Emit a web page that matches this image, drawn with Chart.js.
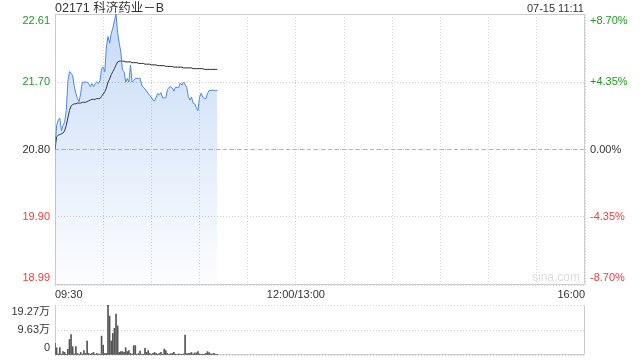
<!DOCTYPE html>
<html>
<head>
<meta charset="utf-8">
<script src="https://cdn.jsdelivr.net/npm/chart.js@4.4.1/dist/chart.umd.min.js"></script>
<style>
  body { margin: 0; background: #fff; font-family: Arial, "Liberation Sans", "Noto Sans CJK SC", sans-serif; }
  #wrap { position: relative; width: 640px; height: 360px; overflow: hidden; }
  canvas { position: absolute; left: 0; }
  #priceCanvas { top: 0; }
  #volCanvas { top: 300px; }
  .txt { position: absolute; color: #333; white-space: nowrap; z-index: 2; }
  #title { left: 55px; top: 0; font-size: 12.5px; line-height: 16px; }
  #stamp { right: 56px; top: 0; font-size: 11px; line-height: 16px; }
  #mark { left: 532px; top: 270px; font-size: 12px; color: #dcdcdc; }
</style>
</head>
<body>
<div id="wrap">
  <div class="txt" id="title">02171 科济药业－B</div>
  <div class="txt" id="stamp">07-15 11:11</div>
  <div class="txt" id="mark">sina.com</div>
  <canvas id="priceCanvas" width="640" height="300"></canvas>
  <canvas id="volCanvas" width="640" height="60"></canvas>
</div>
<script>
// minute data from 09:30, one value per minute
const prevClose = 20.80;
const priceData = [
  20.80, 21.12, 21.19, 21.22, 21.05, 21.12, 21.16, 21.32, 21.70, 21.84,
  21.82, 21.79, 21.64, 21.55, 21.48, 21.44, 21.55, 21.70, 21.70, 21.70,
  21.70, 21.68, 21.64, 21.68, 21.64, 21.68, 21.70, 21.68, 21.72, 21.88,
  21.90, 21.84, 22.17, 22.31, 22.22, 22.35, 22.42, 22.52, 22.61, 22.36,
  22.22, 22.10, 21.86, 21.84, 21.70, 21.75, 21.70, 21.93, 21.70, 21.72,
  21.75, 21.75, 21.75, 21.75, 21.66, 21.63, 21.61, 21.58, 21.55, 21.52,
  21.50, 21.46, 21.45, 21.50, 21.55, 21.53, 21.56, 21.49, 21.49, 21.49,
  21.60, 21.63, 21.64, 21.62, 21.58, 21.63, 21.63, 21.63, 21.69, 21.66,
  21.70, 21.67, 21.63, 21.51, 21.46, 21.50, 21.42, 21.41, 21.36, 21.32,
  21.50, 21.55, 21.50, 21.48, 21.48, 21.55, 21.59, 21.59, 21.59, 21.59,
  21.59, 21.59
];
const avgData = [
  20.80, 20.97, 20.99, 21.00, 21.01, 21.02, 21.05, 21.12, 21.22, 21.32,
  21.38, 21.40, 21.41, 21.41, 21.42, 21.42, 21.42, 21.43, 21.43, 21.43,
  21.44, 21.45, 21.46, 21.47, 21.47, 21.47, 21.48, 21.48, 21.48, 21.51,
  21.54, 21.57, 21.62, 21.70, 21.74, 21.80, 21.84, 21.88, 21.93, 21.97,
  21.98, 21.98, 21.98, 21.98, 21.97, 21.97, 21.97, 21.97, 21.96, 21.96,
  21.96, 21.96, 21.95, 21.95, 21.95, 21.95, 21.94, 21.94, 21.94, 21.94,
  21.93, 21.93, 21.93, 21.93, 21.92, 21.92, 21.92, 21.92, 21.92, 21.91,
  21.91, 21.91, 21.91, 21.91, 21.90, 21.90, 21.90, 21.90, 21.90, 21.90,
  21.89, 21.89, 21.89, 21.89, 21.89, 21.89, 21.88, 21.88, 21.88, 21.88,
  21.88, 21.88, 21.88, 21.87, 21.87, 21.87, 21.87, 21.87, 21.87, 21.87,
  21.87, 21.87
];
// volume in 万
const volumeData = [
  4.5, 2.8, 0.4, 2.8, 0.3, 1.3, 1.0, 0.3, 2.2, 6.0,
  7.9, 3.2, 0.4, 3.2, 0.6, 0.3, 1.0, 0.3, 1.7, 0.6,
  5.4, 0.6, 0.3, 0.6, 1.0, 0.3, 0.6, 0.4, 0.3, 7.3,
  3.8, 0.6, 0.6, 19.27, 15.0, 5.4, 8.3, 10.3, 15.8, 11.2,
  1.0, 1.3, 1.3, 1.0, 2.8, 1.3, 1.7, 0.6, 0.4, 3.6,
  3.6, 0.3, 0.6, 1.5, 0.3, 0.3, 2.6, 1.0, 1.7, 0.6,
  0.3, 0.6, 1.0, 0.6, 0.3, 0.6, 1.0, 0.3, 2.3, 1.7,
  0.6, 0.3, 0.5, 0.6, 1.0, 0.3, 0.3, 0.4, 0.3, 0.3,
  0.4, 7.7, 0.5, 0.6, 0.6, 1.0, 0.4, 0.8, 0.8, 1.3,
  0.4, 0.3, 0.3, 0.3, 0.6, 1.3, 0.9, 0.4, 0.4, 0.6,
  0.3, 0.1
];
const priceTicks = [18.99, 19.90, 20.80, 21.70, 22.61];
const pctTicks = [-8.70, -4.35, 0, 4.35, 8.70];
const volTicks = [0, 9.63, 19.27];
const volTickLabels = ['0', '9.63万', '19.27万'];
const xTickMinutes = [0, 150, 330];
const xTickLabels = ['09:30', '12:00/13:00', '16:00'];

const upColor = '#1c9c1c';
const downColor = '#f43a3a';
const flatColor = '#333';
const gridColor = '#d0d0d0';

Chart.defaults.font.family = 'Arial, "Liberation Sans", "Noto Sans CJK SC", sans-serif';
Chart.defaults.font.size = 11;

function toPoints(arr) {
  return arr.map((v, i) => ({ x: i, y: v }));
}

// first / last labels sit inside the plot box
function edgeLabel(text, index, count) {
  if (index === 0) return [text, ''];
  if (index === count - 1) return ['', text];
  return text;
}

// fixed-width side axes, no extra padding from tall labels
function fixWidth(s) {
  s.width = 55;
  s.paddingTop = 0;
  s.paddingBottom = 0;
}

const framePlugin = {
  id: 'frame',
  beforeDatasetsDraw(chart, args, opts) {
    const { ctx, chartArea: a } = chart;
    const l = Math.round(a.left) + 0.5, r = Math.round(a.right) - 0.5;
    const t = Math.round(a.top) + 0.5, b = Math.round(a.bottom) - 0.5;
    ctx.save();
    ctx.strokeStyle = opts.color || '#ccc';
    ctx.lineWidth = 1;
    ctx.beginPath();
    if (opts.top !== false) { ctx.moveTo(l, t); ctx.lineTo(r, t); }
    ctx.moveTo(l, t); ctx.lineTo(l, b);
    ctx.moveTo(r, t); ctx.lineTo(r, b);
    ctx.moveTo(l, b); ctx.lineTo(r, b);
    ctx.stroke();
    ctx.restore();
  }
};

const priceChart = new Chart(document.getElementById('priceCanvas'), {
  type: 'line',
  data: {
    datasets: [
      {
        label: '价格',
        data: toPoints(priceData),
        borderColor: '#4a86e8',
        borderWidth: 1,
        pointRadius: 0,
        tension: 0,
        fill: 'start',
        backgroundColor: (c) => {
          const a = c.chart.chartArea;
          if (!a) return 'rgba(74,134,232,0.15)';
          const g = c.chart.ctx.createLinearGradient(0, a.top, 0, a.bottom);
          g.addColorStop(0, 'rgba(74,134,232,0.30)');
          g.addColorStop(1, 'rgba(74,134,232,0.01)');
          return g;
        }
      },
      {
        label: '均价',
        data: toPoints(avgData),
        borderColor: '#222',
        borderWidth: 1,
        pointRadius: 0,
        tension: 0,
        fill: false
      },
      {
        label: '昨收',
        data: [{ x: 0, y: prevClose }, { x: 330, y: prevClose }],
        borderColor: '#b4b4b4',
        borderWidth: 1,
        borderDash: [4, 3],
        pointRadius: 0,
        fill: false
      }
    ]
  },
  options: {
    responsive: false,
    animation: false,
    layout: { padding: { top: 14 } },
    plugins: {
      legend: { display: false },
      tooltip: { enabled: false },
      frame: { color: '#cccccc' }
    },
    scales: {
      x: {
        type: 'linear',
        min: 0,
        max: 330,
        offset: false,
        ticks: {
          stepSize: 30,
          autoSkip: false,
          maxRotation: 0,
          align: 'inner',
          padding: 3,
          color: flatColor,
          callback: (v) => {
            const k = xTickMinutes.indexOf(v);
            return k >= 0 ? xTickLabels[k] : '';
          }
        },
        grid: { color: gridColor, drawTicks: false },
        border: { display: false, dash: [1, 2] },
        afterFit: (s) => { s.height = 15; s.paddingLeft = 0; s.paddingRight = 0; }
      },
      y: {
        position: 'left',
        min: priceTicks[0],
        max: priceTicks[priceTicks.length - 1],
        afterBuildTicks: (s) => { s.ticks = priceTicks.map(v => ({ value: v })); },
        ticks: {
          autoSkip: false,
          padding: 5,
          color: (c) => c.tick.value > prevClose + 0.001 ? upColor : (c.tick.value < prevClose - 0.001 ? downColor : flatColor),
          callback: (v, i, t) => edgeLabel(v.toFixed(2), i, t.length)
        },
        grid: { color: gridColor, drawTicks: false },
        border: { display: false, dash: [1, 2] },
        afterFit: fixWidth
      },
      y1: {
        position: 'right',
        min: pctTicks[0],
        max: pctTicks[pctTicks.length - 1],
        afterBuildTicks: (s) => { s.ticks = pctTicks.map(v => ({ value: v })); },
        ticks: {
          autoSkip: false,
          padding: 5,
          color: (c) => c.tick.value > 0 ? upColor : (c.tick.value < 0 ? downColor : flatColor),
          callback: (v, i, t) => edgeLabel((v > 0 ? '+' : '') + v.toFixed(2) + '%', i, t.length)
        },
        grid: { display: false, drawTicks: false },
        border: { display: false },
        afterFit: fixWidth
      }
    }
  },
  plugins: [framePlugin]
});

const volChart = new Chart(document.getElementById('volCanvas'), {
  type: 'bar',
  data: {
    datasets: [{
      label: '成交量',
      data: toPoints(volumeData),
      backgroundColor: '#555',
      barThickness: 1
    }]
  },
  options: {
    responsive: false,
    animation: false,
    layout: { padding: { top: 5, right: 55, bottom: 5 } },
    plugins: {
      legend: { display: false },
      tooltip: { enabled: false },
      frame: { color: '#cccccc', top: false }
    },
    scales: {
      x: {
        type: 'linear',
        min: 0,
        max: 330,
        offset: false,
        display: false,
        grid: { offset: false }
      },
      y: {
        min: volTicks[0],
        max: volTicks[volTicks.length - 1],
        afterBuildTicks: (s) => { s.ticks = volTicks.map(v => ({ value: v })); },
        ticks: {
          autoSkip: false,
          padding: 5,
          color: flatColor,
          callback: (v, i, t) => edgeLabel(volTickLabels[i], i, t.length)
        },
        grid: { color: gridColor, drawTicks: false },
        border: { display: false, dash: [1, 2] },
        afterFit: fixWidth
      }
    }
  },
  plugins: [framePlugin]
});
</script>
</body>
</html>
